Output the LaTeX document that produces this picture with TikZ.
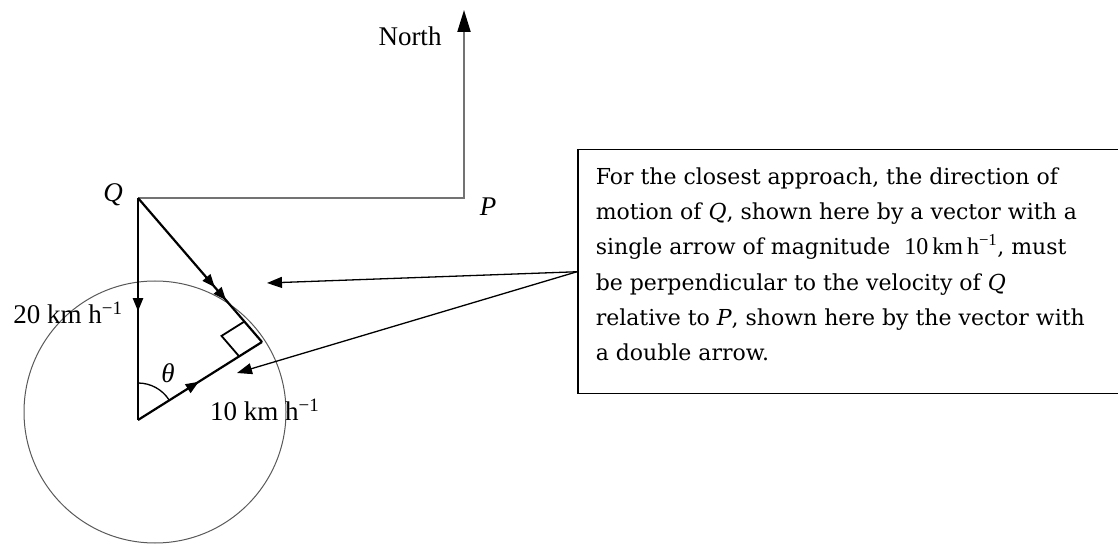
\documentclass[tikz,border=0pt]{standalone}
\usepackage{fontspec}
\newfontfamily\timesfont{Liberation Serif}
\newfontfamily\boxfont{DejaVu Serif}
\usetikzlibrary{arrows.meta,decorations.markings,positioning,calc}

\newcommand{\speedunit}{{\timesfont\fontsize{24}{35.2}\selectfont 10\,km\,h\textsuperscript{−1}}}

\tikzset{
  vec/.style={line width=2.2pt},
  route/.style={line width=2pt, draw=black!55},
  lbl/.style={font=\timesfont\fontsize{27}{30}\selectfont, inner sep=0pt},
  pointer/.style={line width=1.3pt, -{Triangle[length=15pt,width=11pt]}},
  onearrow/.style={postaction={decorate}, decoration={markings,
    mark=at position #1 with {\arrow{Triangle[length=13pt,width=10pt]}}}},
  twoarrows/.style={postaction={decorate}, decoration={markings,
    mark=at position 0.62 with {\arrow{Triangle[length=13pt,width=10pt]}},
    mark=at position 0.71 with {\arrow{Triangle[length=13pt,width=10pt]}}}}
}

\begin{document}
\begin{tikzpicture}[x=1pt,y=1pt]
\useasboundingbox (0,0) rectangle (1118,546);
\clip (0,0) rectangle (1118,546);

% points of the velocity triangle
\coordinate (Q) at (138,348);
\coordinate (O) at (138,126);
\coordinate (R) at (262,204);
\coordinate (corner) at (464,348);
\coordinate (north) at (464,536);

% circle of possible 10 km/h directions
\draw[black!65, line width=1pt] (155,134) circle (131pt);

% route from Q to P and the north arrow
\draw[route, -{Triangle[length=22pt,width=13pt,color=black]}] (Q) -- (corner) -- (north);

% triangle
\draw[vec, onearrow=0.51] (Q) -- (O);
\draw[vec, onearrow=0.49] (O) -- (R);
\draw[vec, twoarrows] (Q) -- (R);

% right angle at R
\coordinate (ra1) at ($(R)!27pt!(Q)$);
\coordinate (ra2) at ($(R)!27pt!(O)$);
\draw[line width=1.8pt] (ra1) -- ($(ra1)+(ra2)-(R)$) -- (ra2);

% angle theta
\draw[line width=1.3pt] let \p1=($(R)-(O)$), \n1={atan2(\y1,\x1)} in
  ($(O)+(0,37pt)$) arc (90:\n1:37pt);

% labels
\node[lbl] (qlbl) at (113,351) {\itshape Q};
\node[lbl] (plbl) at (488,339) {\itshape P};
\node[lbl] (nlbl) at (410,510) {North};
\node[lbl] (v20) at (68,233) {20 km h\textsuperscript{−1}};
\node[lbl, anchor=west] (v10) at (210,136) {10 km h\textsuperscript{−1}};
\node[lbl] (th) at (168,173) {\itshape θ};

% explanation box
\node[draw, line width=1.5pt, anchor=north west, inner xsep=18pt,
  inner ysep=18pt] (box) at (577,397)
  {\parbox[c][208pt][t]{524pt}{\raggedright\boxfont\fontsize{22}{35.2}\selectfont
   For the closest approach, the direction of\\
   motion of \textit{Q}, shown here by a vector with a\\
   single arrow of magnitude \ \speedunit, must\\
   be perpendicular to the velocity of \textit{Q}\\
   relative to \textit{P}, shown here by the vector with\\
   a double arrow.}};

\coordinate (tipa) at (267,263);
\coordinate (tipb) at (237,173);
\draw[pointer] (box.west) -- (tipa);
\draw[pointer] (box.west) -- (tipb);
\end{tikzpicture}
\end{document}
